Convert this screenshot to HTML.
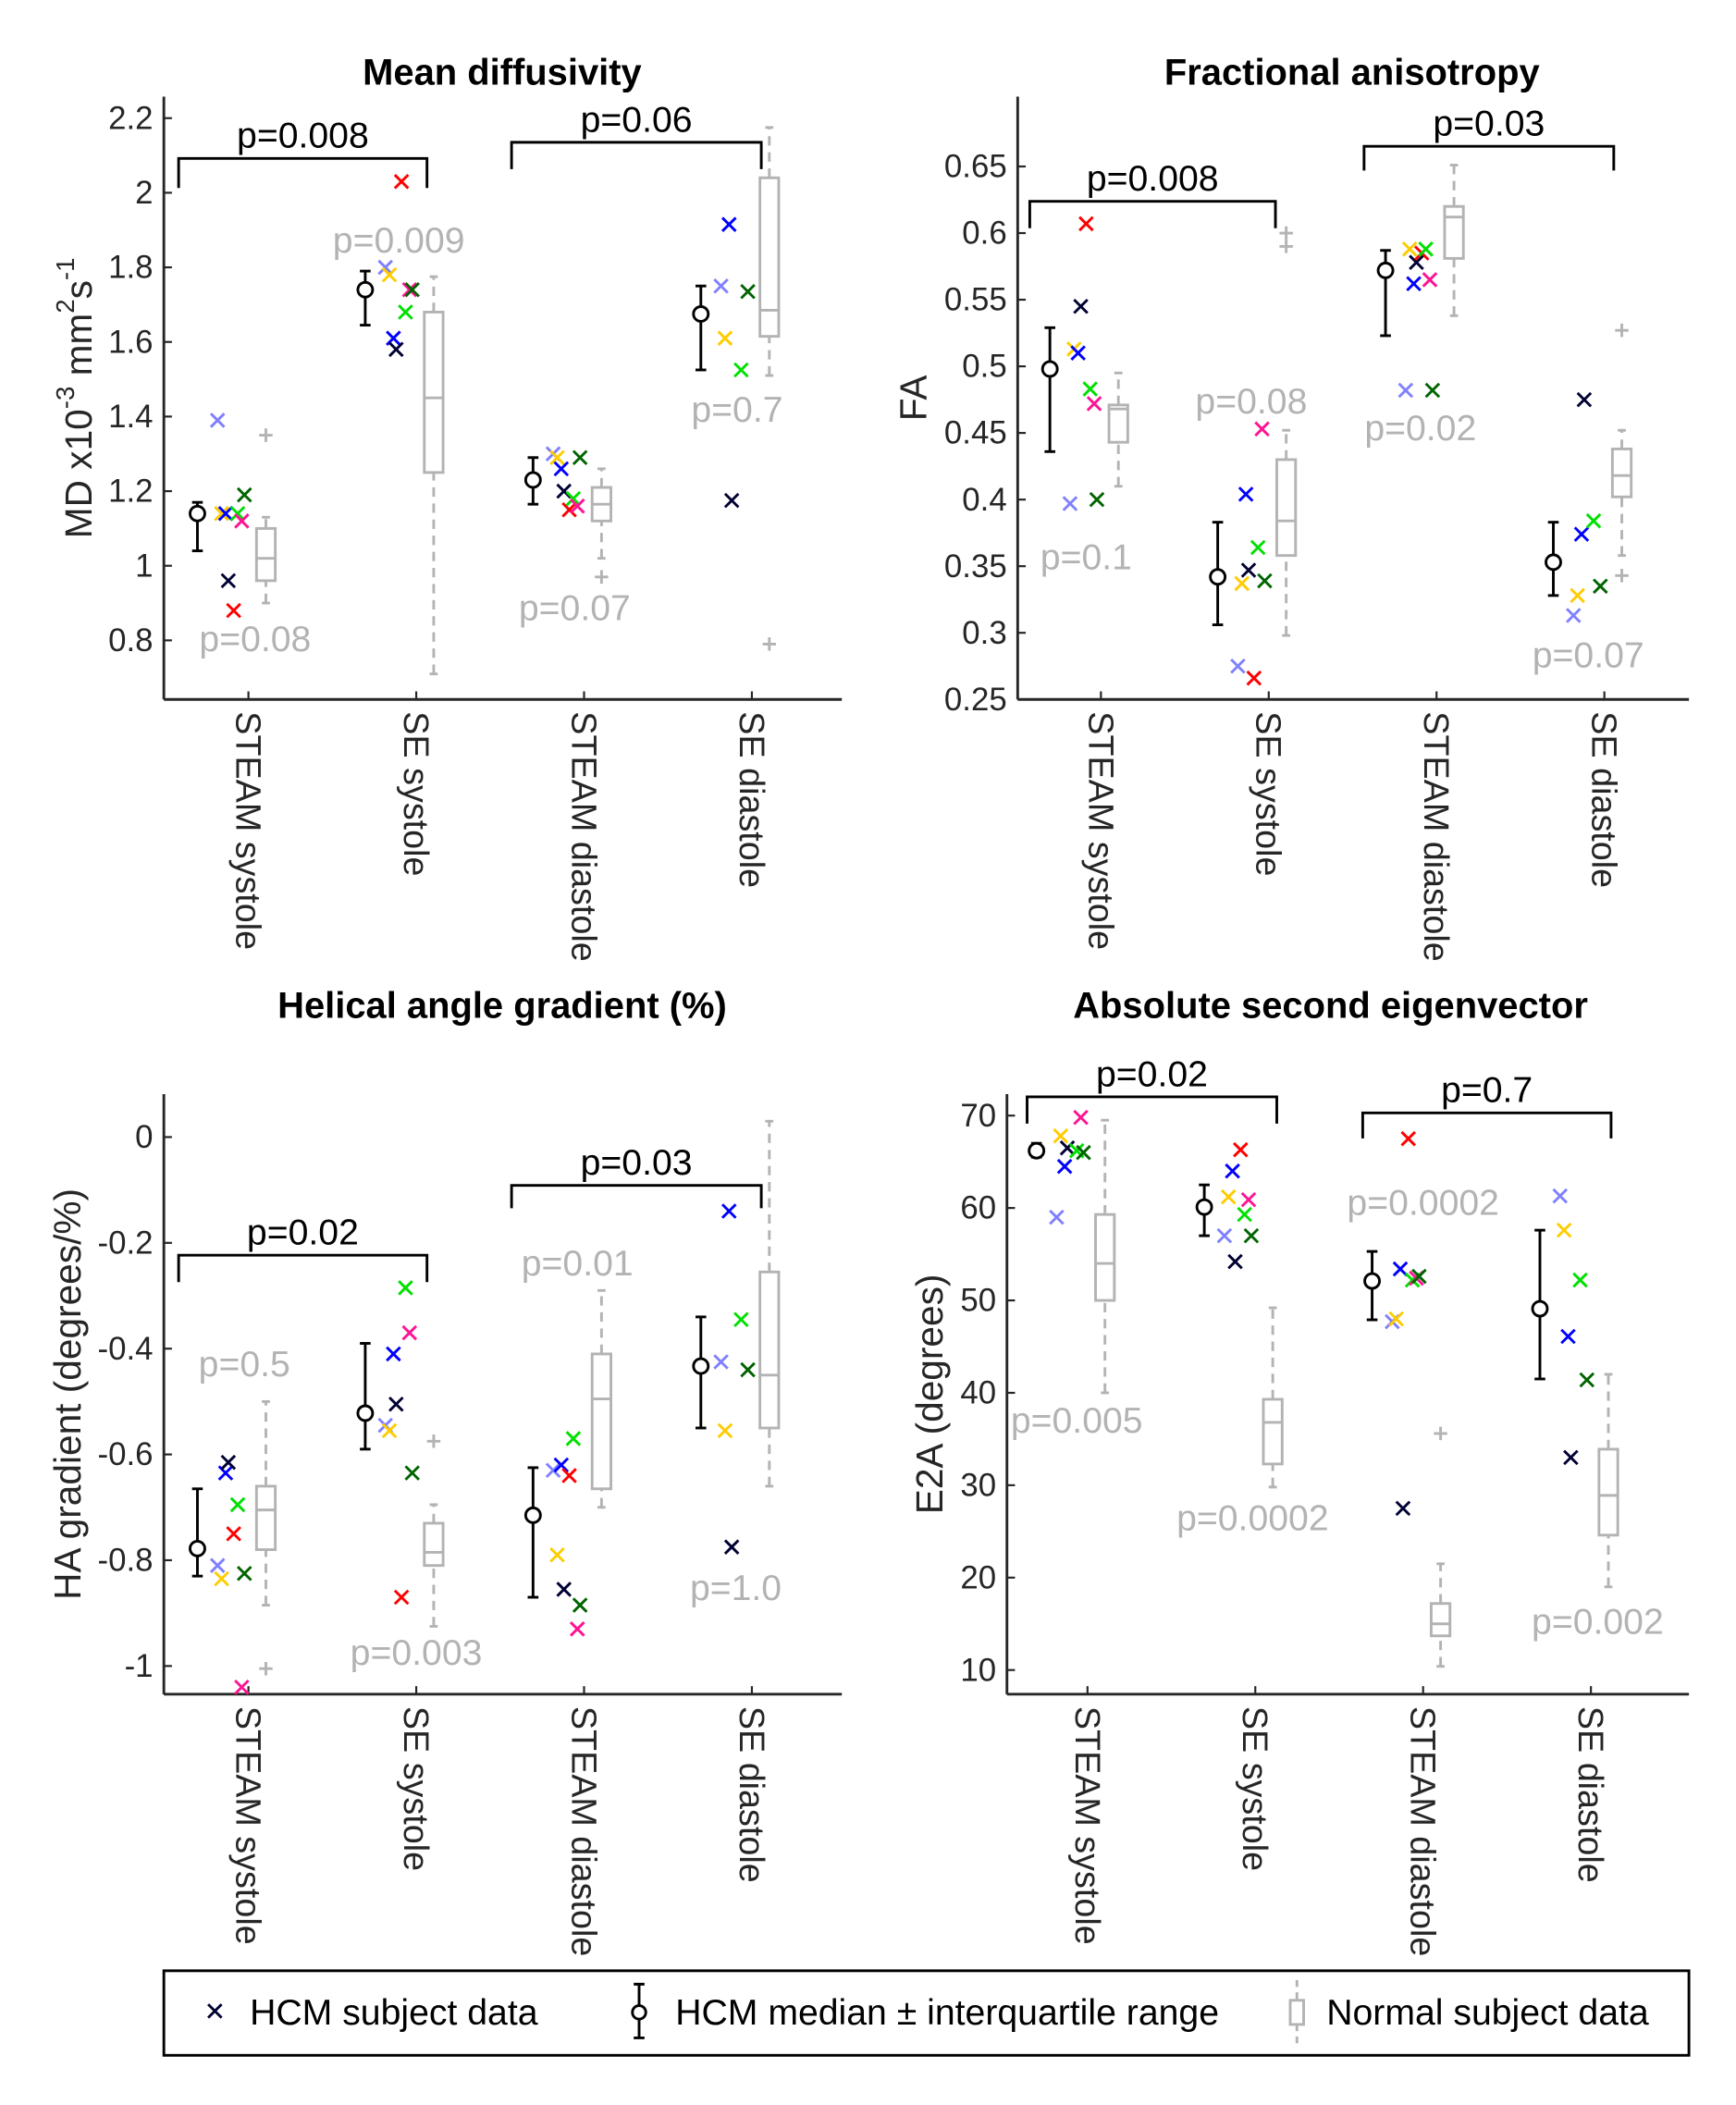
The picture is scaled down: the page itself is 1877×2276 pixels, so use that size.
<!DOCTYPE html>
<html><head><meta charset="utf-8"><style>
html,body{margin:0;padding:0;background:#fff}
svg{display:block;font-family:"Liberation Sans",sans-serif}
</style></head><body>
<svg id="fig" width="1877" height="2276" viewBox="0 0 1293 1568" xmlns="http://www.w3.org/2000/svg">
<g id="root"></g>
</svg>
<script>
const categories = ["STEAM systole","SE systole","STEAM diastole","SE diastole"];
const colorNames = ["lightblue","yellow","blue","navy","red","green","magenta","darkgreen"];
// MD
const mdTicks = [0.8,1,1.2,1.4,1.6,1.8,2,2.2];
const mdMedian = [[1.14,1.04,1.17],[1.74,1.645,1.79],[1.23,1.165,1.29],[1.675,1.525,1.75]];
const mdSubjects = [[1.39,1.14,1.14,0.96,0.88,1.14,1.12,1.19],[1.80,1.78,1.61,1.58,2.03,1.68,1.74,1.74],[1.30,1.29,1.26,1.20,1.15,1.18,1.16,1.29],[1.75,1.61,1.915,1.175,null,1.525,null,1.735]];
const mdBox = [[0.90,0.96,1.02,1.10,1.13],[0.71,1.25,1.45,1.68,1.775],[1.02,1.12,1.165,1.21,1.26],[1.51,1.615,1.685,2.04,2.175]];
const mdOutliers = [[1.35],[],[0.97],[0.79]];
const mdP = ["p=0.08","p=0.009","p=0.07","p=0.7"];
const mdBr = ["p=0.008","p=0.06"];
// FA
const faTicks = [0.25,0.3,0.35,0.4,0.45,0.5,0.55,0.6,0.65];
const faMedian = [[0.498,0.436,0.529],[0.342,0.306,0.383],[0.572,0.523,0.587],[0.353,0.328,0.383]];
const faSubjects = [[0.397,0.513,0.510,0.545,0.607,0.483,0.472,0.400],[0.275,0.337,0.404,0.347,0.266,0.364,0.453,0.339],[0.482,0.588,0.562,0.578,0.585,0.588,0.565,0.482],[0.313,0.328,0.374,0.475,null,0.384,null,0.335]];
const faBox = [[0.41,0.443,0.468,0.471,0.495],[0.298,0.358,0.384,0.430,0.452],[0.538,0.581,0.612,0.620,0.651],[0.358,0.402,0.418,0.438,0.452]];
const faOutliers = [[],[0.59,0.60],[],[0.527,0.343]];
const faP = ["p=0.1","p=0.08","p=0.02","p=0.07"];
const faBr = ["p=0.008","p=0.03"];
// HA
const haTicks = [-1,-0.8,-0.6,-0.4,-0.2,0];
const haMedian = [[-0.778,-0.83,-0.665],[-0.522,-0.59,-0.39],[-0.715,-0.87,-0.625],[-0.433,-0.55,-0.34]];
const haSubjects = [[-0.81,-0.835,-0.635,-0.615,-0.75,-0.695,-1.04,-0.825],[-0.545,-0.555,-0.41,-0.505,-0.87,-0.285,-0.37,-0.635],[-0.63,-0.79,-0.62,-0.855,-0.64,-0.57,-0.93,-0.885],[-0.425,-0.555,-0.14,-0.775,null,-0.345,null,-0.44]];
const haBox = [[-0.885,-0.78,-0.705,-0.66,-0.50],[-0.925,-0.81,-0.785,-0.73,-0.695],[-0.70,-0.665,-0.495,-0.41,-0.29],[-0.66,-0.55,-0.45,-0.255,0.03]];
const haOutliers = [[-1.005],[-0.575],[],[]];
const haP = ["p=0.5","p=0.003","p=0.01","p=1.0"];
const haBr = ["p=0.02","p=0.03"];
// E2A
const e2Ticks = [10,20,30,40,50,60,70];
const e2Median = [[66.2,65.5,67],[60.1,57,62.5],[52.1,47.9,55.3],[49.1,41.5,57.6]];
const e2Subjects = [[59,67.8,64.5,66.5,null,66.2,69.8,66],[57,61.2,64,54.2,66.3,59.3,60.9,57],[47.7,48,53.4,27.5,67.5,52.2,52.4,52.6],[61.3,57.6,46.1,33,null,52.2,null,41.4]];
const e2Box = [[40,50,54,59.3,69.5],[29.8,32.3,36.8,39.3,49.2],[10.4,13.7,15,17.2,21.5],[19,24.6,28.9,33.9,42]];
const e2Outliers = [[],[],[35.6],[]];
const e2P = ["p=0.005","p=0.0002","p=0.0002","p=0.002"];
const e2Br = ["p=0.02","p=0.7"];

const COLORS=["#8080ff","#ffcc00","#0000ff","#000033","#ff0000","#00e000","#ff1493","#006400"];
const XOFF=[-23,-20,-17,-15,-11,-8,-5,-3];
const GRAY="#b3b3b3";
const NS="http://www.w3.org/2000/svg";
const root=document.getElementById('root');
function mk(tag,attrs,parent,text){const e=document.createElementNS(NS,tag);for(const k in attrs)e.setAttribute(k,attrs[k]);if(text!==undefined)e.textContent=text;(parent||root).appendChild(e);return e;}
function fmt(v){return String(+v.toFixed(3));}

function panel(cfg){
  const g=mk('g',{});
  
  
  const {x0,x1,yTop,yBot,cats,v0,p0,v1,p1}=cfg;
  const Y=v=>p0+(v-v0)*(p1-p0)/(v1-v0);
  const t=mk('text',{x:cfg.titleX,y:cfg.titleY,'text-anchor':'middle','font-size':27.5,'font-weight':'bold',fill:'#000'},g,cfg.title);
  
  
  mk('line',{x1:x0,y1:yTop,x2:x0,y2:yBot,stroke:'#262626','stroke-width':2},g);
  mk('line',{x1:x0,y1:yBot,x2:x1,y2:yBot,stroke:'#262626','stroke-width':2},g);
  cfg.ticks.forEach(v=>{const y=Y(v);
    mk('line',{x1:x0,y1:y,x2:x0+6,y2:y,stroke:'#262626','stroke-width':1.5},g);
    const tl=mk('text',{x:x0-8,y:y+8,'text-anchor':'end','font-size':24,fill:'#262626'},g,fmt(v));
    
    
  });
  const yl=mk('text',{transform:`translate(${cfg.ylX},${(yTop+yBot)/2}) rotate(-90)`,'text-anchor':'middle','font-size':28,fill:'#262626'},g);
  
  
  cfg.ylabel.forEach(p=>{mk('tspan',p.sup?{'font-size':19,dy:p.dy}:{dy:p.dy||0},yl,p.t);});
  categories.forEach((c,i)=>{const cx=cats[i];
    mk('line',{x1:cx,y1:yBot,x2:cx,y2:yBot-6,stroke:'#262626','stroke-width':1.5},g);
    const cl=mk('text',{transform:`translate(${cx-9},${yBot+9}) rotate(90)`,'font-size':26,fill:'#262626'},g,c);
    
    
    const b=cfg.box[i], bx=cx+13, bw=7;
    const bg=mk('g',{stroke:GRAY,'stroke-width':2,fill:'none'},g);
    
    
    mk('line',{x1:bx,y1:Y(b[0]),x2:bx,y2:Y(b[1]),'stroke-dasharray':'7,5'},bg);
    mk('line',{x1:bx,y1:Y(b[3]),x2:bx,y2:Y(b[4]),'stroke-dasharray':'7,5'},bg);
    mk('line',{x1:bx-3,y1:Y(b[0]),x2:bx+3,y2:Y(b[0])},bg);
    mk('line',{x1:bx-3,y1:Y(b[4]),x2:bx+3,y2:Y(b[4])},bg);
    mk('rect',{x:bx-bw,y:Y(b[3]),width:2*bw,height:Y(b[1])-Y(b[3])},bg);
    mk('line',{x1:bx-bw,y1:Y(b[2]),x2:bx+bw,y2:Y(b[2])},bg);
    cfg.out[i].forEach(o=>{const oy=Y(o);
      mk('path',{d:`M${bx-5},${oy}H${bx+5}M${bx},${oy-5}V${oy+5}`},bg);});
    cfg.subj[i].forEach((v,k)=>{if(v===null)return;const sx=cx+XOFF[k],sy=Y(v);
      const p=mk('path',{d:`M${sx-5},${sy-5}L${sx+5},${sy+5}M${sx-5},${sy+5}L${sx+5},${sy-5}`,stroke:COLORS[k],'stroke-width':2},g);
      
      
    });
    const m=cfg.med[i], mx=cx-38;
    const mg=mk('g',{stroke:'#000','stroke-width':2,fill:'none'},g);
    
    
    mk('line',{x1:mx,y1:Y(m[1]),x2:mx,y2:Y(m[2])},mg);
    mk('line',{x1:mx-4,y1:Y(m[1]),x2:mx+4,y2:Y(m[1])},mg);
    mk('line',{x1:mx-4,y1:Y(m[2]),x2:mx+4,y2:Y(m[2])},mg);
    mk('circle',{cx:mx,cy:Y(m[0]),r:5.5,fill:'#fff'},mg);
    const pl=mk('text',{x:cfg.pPos[i][0],y:cfg.pPos[i][1],'text-anchor':'middle','font-size':27,fill:GRAY},g,cfg.pLab[i]);
    
    
  });
  cfg.br.forEach((b,j)=>{const [xa,xb,yb,yd]=cfg.brPos[j];
    const bp=mk('path',{d:`M${xa},${yd}V${yb}H${xb}V${yd}`,stroke:'#000','stroke-width':2,fill:'none'},g);
    
    
    const bt=mk('text',{x:(xa+xb)/2,y:yb-8,'text-anchor':'middle','font-size':27,fill:'#000'},g,b);
    
    
  });
}
const C1=[185,310,435,560], C2=[820,945,1070,1195], C4=[810,935,1060,1185];
panel({name:'md',title:'Mean diffusivity',titleX:374,titleY:63,x0:122,x1:627,yTop:72,yBot:521,cats:C1,v0:0.8,p0:477,v1:2.2,p1:88,ticks:mdTicks,
 ylX:68,ylabel:[{t:'MD x10'},{t:'-3',sup:1,dy:-13},{t:' mm',dy:13},{t:'2',sup:1,dy:-13},{t:'s',dy:13},{t:'-1',sup:1,dy:-13}],
 med:mdMedian,subj:mdSubjects,box:mdBox,out:mdOutliers,pLab:mdP,pPos:[[190,485],[297,188],[428,462],[549,314]],br:mdBr,brPos:[[133,318,118,140],[381,567,106,126]]});
panel({name:'fa',title:'Fractional anisotropy',titleX:1007,titleY:63,x0:758,x1:1258,yTop:72,yBot:521,cats:C2,v0:0.25,p0:521,v1:0.65,p1:124,ticks:faTicks,
 ylX:690,ylabel:[{t:'FA'}],
 med:faMedian,subj:faSubjects,box:faBox,out:faOutliers,pLab:faP,pPos:[[809,424],[932,308],[1058,328],[1183,497]],br:faBr,brPos:[[767,950,150,170],[1016,1202,109,127]]});
panel({name:'ha',title:'Helical angle gradient (%)',titleX:374,titleY:758,x0:122,x1:627,yTop:815,yBot:1262,cats:C1,v0:0,p0:847,v1:-1,p1:1241,ticks:haTicks,
 ylX:60,ylabel:[{t:'HA gradient (degrees/%)'}],
 med:haMedian,subj:haSubjects,box:haBox,out:haOutliers,pLab:haP,pPos:[[182,1025],[310,1240],[430,950],[548,1192]],br:haBr,brPos:[[133,318,935,955],[381,567,883,900]]});
panel({name:'e2a',title:'Absolute second eigenvector',titleX:991,titleY:758,x0:750,x1:1258,yTop:815,yBot:1262,cats:C4,v0:10,p0:1244,v1:70,p1:831,ticks:e2Ticks,
 ylX:702,ylabel:[{t:'E2A (degrees)'}],
 med:e2Median,subj:e2Subjects,box:e2Box,out:e2Outliers,pLab:e2P,pPos:[[802,1067],[933,1140],[1060,905],[1190,1217]],br:e2Br,brPos:[[765,951,817,837],[1015,1200,829,848]]});
</script>
<script>
(function(){
const NS="http://www.w3.org/2000/svg";const root=document.getElementById('root');
function mk(tag,a,p,t){const e=document.createElementNS(NS,tag);for(const k in a)e.setAttribute(k,a[k]);if(t!==undefined)e.textContent=t;(p||root).appendChild(e);return e;}
const lg=mk('g',{});


mk('rect',{x:122,y:1468,width:1136,height:63,fill:'#fff',stroke:'#000','stroke-width':2},lg);
mk('path',{d:'M155,1493L165,1503M155,1503L165,1493',stroke:'#000033','stroke-width':2},lg);
const t1=mk('text',{x:186,y:1508,'font-size':27,fill:'#000'},lg,'HCM subject data');


mk('path',{d:'M476,1478V1518M472,1478H480M472,1518H480',stroke:'#000','stroke-width':2},lg);
mk('circle',{cx:476,cy:1499,r:5,fill:'#fff',stroke:'#000','stroke-width':2},lg);
const t2=mk('text',{x:503,y:1508,'font-size':27,fill:'#000'},lg,'HCM median ± interquartile range');


mk('path',{d:'M966,1475V1490M966,1508V1523',stroke:'#b3b3b3','stroke-width':2,'stroke-dasharray':'5,4'},lg);
mk('rect',{x:961,y:1490,width:10,height:18,fill:'none',stroke:'#b3b3b3','stroke-width':2},lg);
const t3=mk('text',{x:988,y:1508,'font-size':27,fill:'#000'},lg,'Normal subject data');


})();
</script>
</body></html>
